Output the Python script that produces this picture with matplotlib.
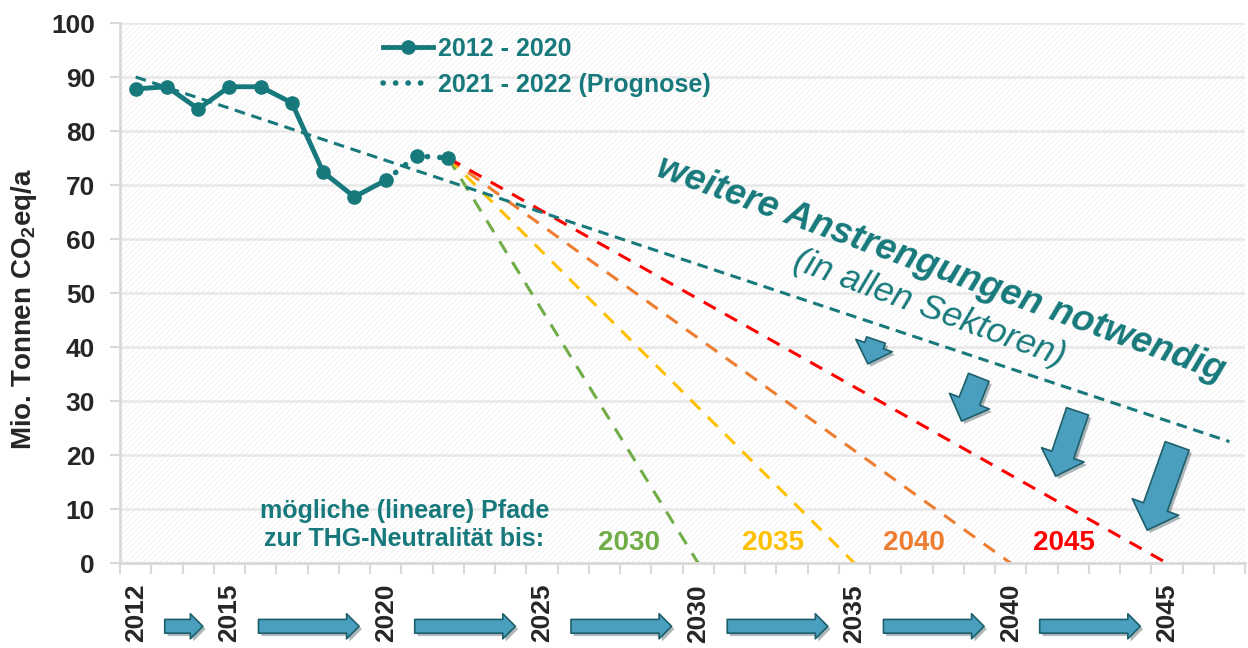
import numpy as np
import matplotlib.pyplot as plt
import matplotlib.patheffects as pe
from matplotlib.patches import Rectangle

plt.rcParams['font.family'] = ['Liberation Sans', 'DejaVu Sans']
plt.rcParams['mathtext.fontset'] = 'custom'
plt.rcParams['mathtext.rm'] = 'Liberation Sans:bold'
plt.rcParams['mathtext.bf'] = 'Liberation Sans:bold'
plt.rcParams['mathtext.default'] = 'bf'
plt.rcParams['hatch.linewidth'] = 0.6

# measured emissions
years = [2012, 2013, 2014, 2015, 2016, 2017, 2018, 2019, 2020]
values = [87.8, 88.2, 84.1, 88.2, 88.2, 85.2, 72.4, 67.8, 70.9]
# forecast
prog_years = [2020, 2021, 2022]
prog_values = [70.9, 75.4, 75.0]
# linear trend
trend_years = [2012, 2047]
trend_values = [90.0, 22.5]
# paths to neutrality
path_start = (2022, 75.0)
path_targets = [2030, 2035, 2040, 2045]
path_colors = ['#70ad47', '#ffc000', '#ed7d31', '#ff0000']
tick_years = [2012, 2015, 2020, 2025, 2030, 2035, 2040, 2045]

teal = '#17797b'
arrow_fc = '#4a9fbf'
arrow_ec = '#1d5f6a'
grid_c = '#e8e8e8'

fig = plt.figure(figsize=(12.48, 6.48), dpi=100)
ax = fig.add_axes([0.0962, 0.131, 0.9014, 0.8335])
ax.set_xlim(2011.5, 2047.5)
ax.set_ylim(0, 100)

# hatched background
ax.add_patch(Rectangle((0, 0), 1, 1, transform=ax.transAxes, facecolor='white',
                       hatch='//////', edgecolor='#f0f0f0', lw=0, zorder=0))
for yv in range(10, 101, 10):
    ax.axhline(yv, color=grid_c, lw=1.8, zorder=0.5)

# trend
ax.plot(trend_years, trend_values, color=teal, lw=2.2, ls=(0, (3.5, 2.2)), zorder=3)

# paths
for t, c in zip(path_targets, path_colors):
    ax.plot([path_start[0], t], [path_start[1], 0], color=c, lw=2.2,
            ls=(0, (4.5, 3.5)), zorder=2.5)

# series
l1, = ax.plot(years, values, color=teal, lw=3.5, marker='o', ms=9.5, zorder=5,
              label='2012 - 2020')
l2, = ax.plot(prog_years, prog_values, color=teal, lw=4, ls=(0, (0.05, 2.2)),
              dash_capstyle='round', zorder=5, label='2021 - 2022 (Prognose)')
ax.plot(prog_years[1:], prog_values[1:], ls='none', color=teal, marker='o', ms=9.5, zorder=5)

leg = ax.legend(handles=[l1, l2], loc='upper left', bbox_to_anchor=(0.234, 0.975),
                frameon=False, handlelength=2.0, handletextpad=0.2, labelspacing=0.5,
                borderpad=0, borderaxespad=0,
                prop={'weight': 'bold', 'size': 18})
for txt in leg.get_texts():
    txt.set_color(teal)

# axes styling
for s in ['top', 'right']:
    ax.spines[s].set_visible(False)
for s in ['left', 'bottom']:
    ax.spines[s].set_color('#d9d9d9')
    ax.spines[s].set_linewidth(2)
ax.set_yticks(range(0, 101, 10))
ax.tick_params(axis='y', length=7, width=1.5, color='#d9d9d9', labelsize=19,
               labelcolor='#262626', pad=11)
for lab in ax.get_yticklabels():
    lab.set_fontweight('bold')
ax.set_xticks(tick_years)
ax.set_xticklabels([str(y) for y in tick_years], rotation=90, fontsize=19,
                   fontweight='bold', color='#262626')
ax.set_xticks(np.arange(2011.5, 2047.6, 1), minor=True)
ax.tick_params(axis='x', which='major', length=0, pad=15)
ax.tick_params(axis='x', which='minor', length=8, width=1.5, color='#d9d9d9')
ax.set_ylabel(r'Mio. Tonnen CO$_2$eq/a', fontsize=20, fontweight='bold',
              color='#262626')
ax.yaxis.set_label_coords(-0.072, 0.47)

# horizontal arrows between year labels
shadow = [pe.SimplePatchShadow(offset=(2, -2), alpha=0.35), pe.Normal()]
for a, b in zip(tick_years[:-1], tick_years[1:]):
    arr = ax.annotate('', xy=(b - 0.85, -0.117), xytext=(a + 0.93, -0.117),
                      xycoords=('data', 'axes fraction'), textcoords=('data', 'axes fraction'),
                      annotation_clip=False,
                      arrowprops=dict(arrowstyle='simple,head_length=0.5,head_width=1.0,tail_width=0.55',
                                      fc=arrow_fc, ec=arrow_ec, lw=1.2, mutation_scale=18,
                                      shrinkA=0, shrinkB=0))
    arr.arrow_patch.set_path_effects(shadow)

# downward arrows in the plot
down_arrows = [((2035.69, 41.3), (2035.43, 36.9), 0.9),
               ((2038.98, 34.4), (2038.43, 26.3), 1.0),
               ((2042.14, 28.1), (2041.44, 16.1), 1.05),
               ((2045.33, 21.7), (2044.37, 6.1), 1.15)]
for (tail, tip, sc) in down_arrows:
    arr = ax.annotate('', xy=tip, xytext=tail,
                      arrowprops=dict(arrowstyle='simple,head_length=0.7,head_width=1.4,tail_width=0.72',
                                      fc=arrow_fc, ec=arrow_ec, lw=1.2, mutation_scale=22 * sc,
                                      shrinkA=0, shrinkB=0), zorder=6)
    arr.arrow_patch.set_path_effects(shadow)

# texts
ax.text(2037.76, 54.4, 'weitere Anstrengungen notwendig', color=teal, fontsize=26.5,
        fontweight='bold', fontstyle='italic', rotation=-20, rotation_mode='anchor',
        ha='center', va='center', zorder=7)
ax.text(2037.4, 47.2, '(in allen Sektoren)', color=teal, fontsize=25.5,
        fontstyle='italic', rotation=-20, rotation_mode='anchor',
        ha='center', va='center', zorder=7)
ax.text(2020.6, 7.0, 'mögliche (lineare) Pfade\nzur THG-Neutralität bis:', color=teal,
        fontsize=18, fontweight='bold', ha='center', va='center', linespacing=1.2)
label_x = [2027.8, 2032.4, 2036.9, 2041.7]
for x, t, c in zip(label_x, path_targets, path_colors):
    ax.text(x, 3.8, str(t), color=c, fontsize=20, fontweight='bold', ha='center', va='center')

fig.savefig('out.png', dpi=100)
